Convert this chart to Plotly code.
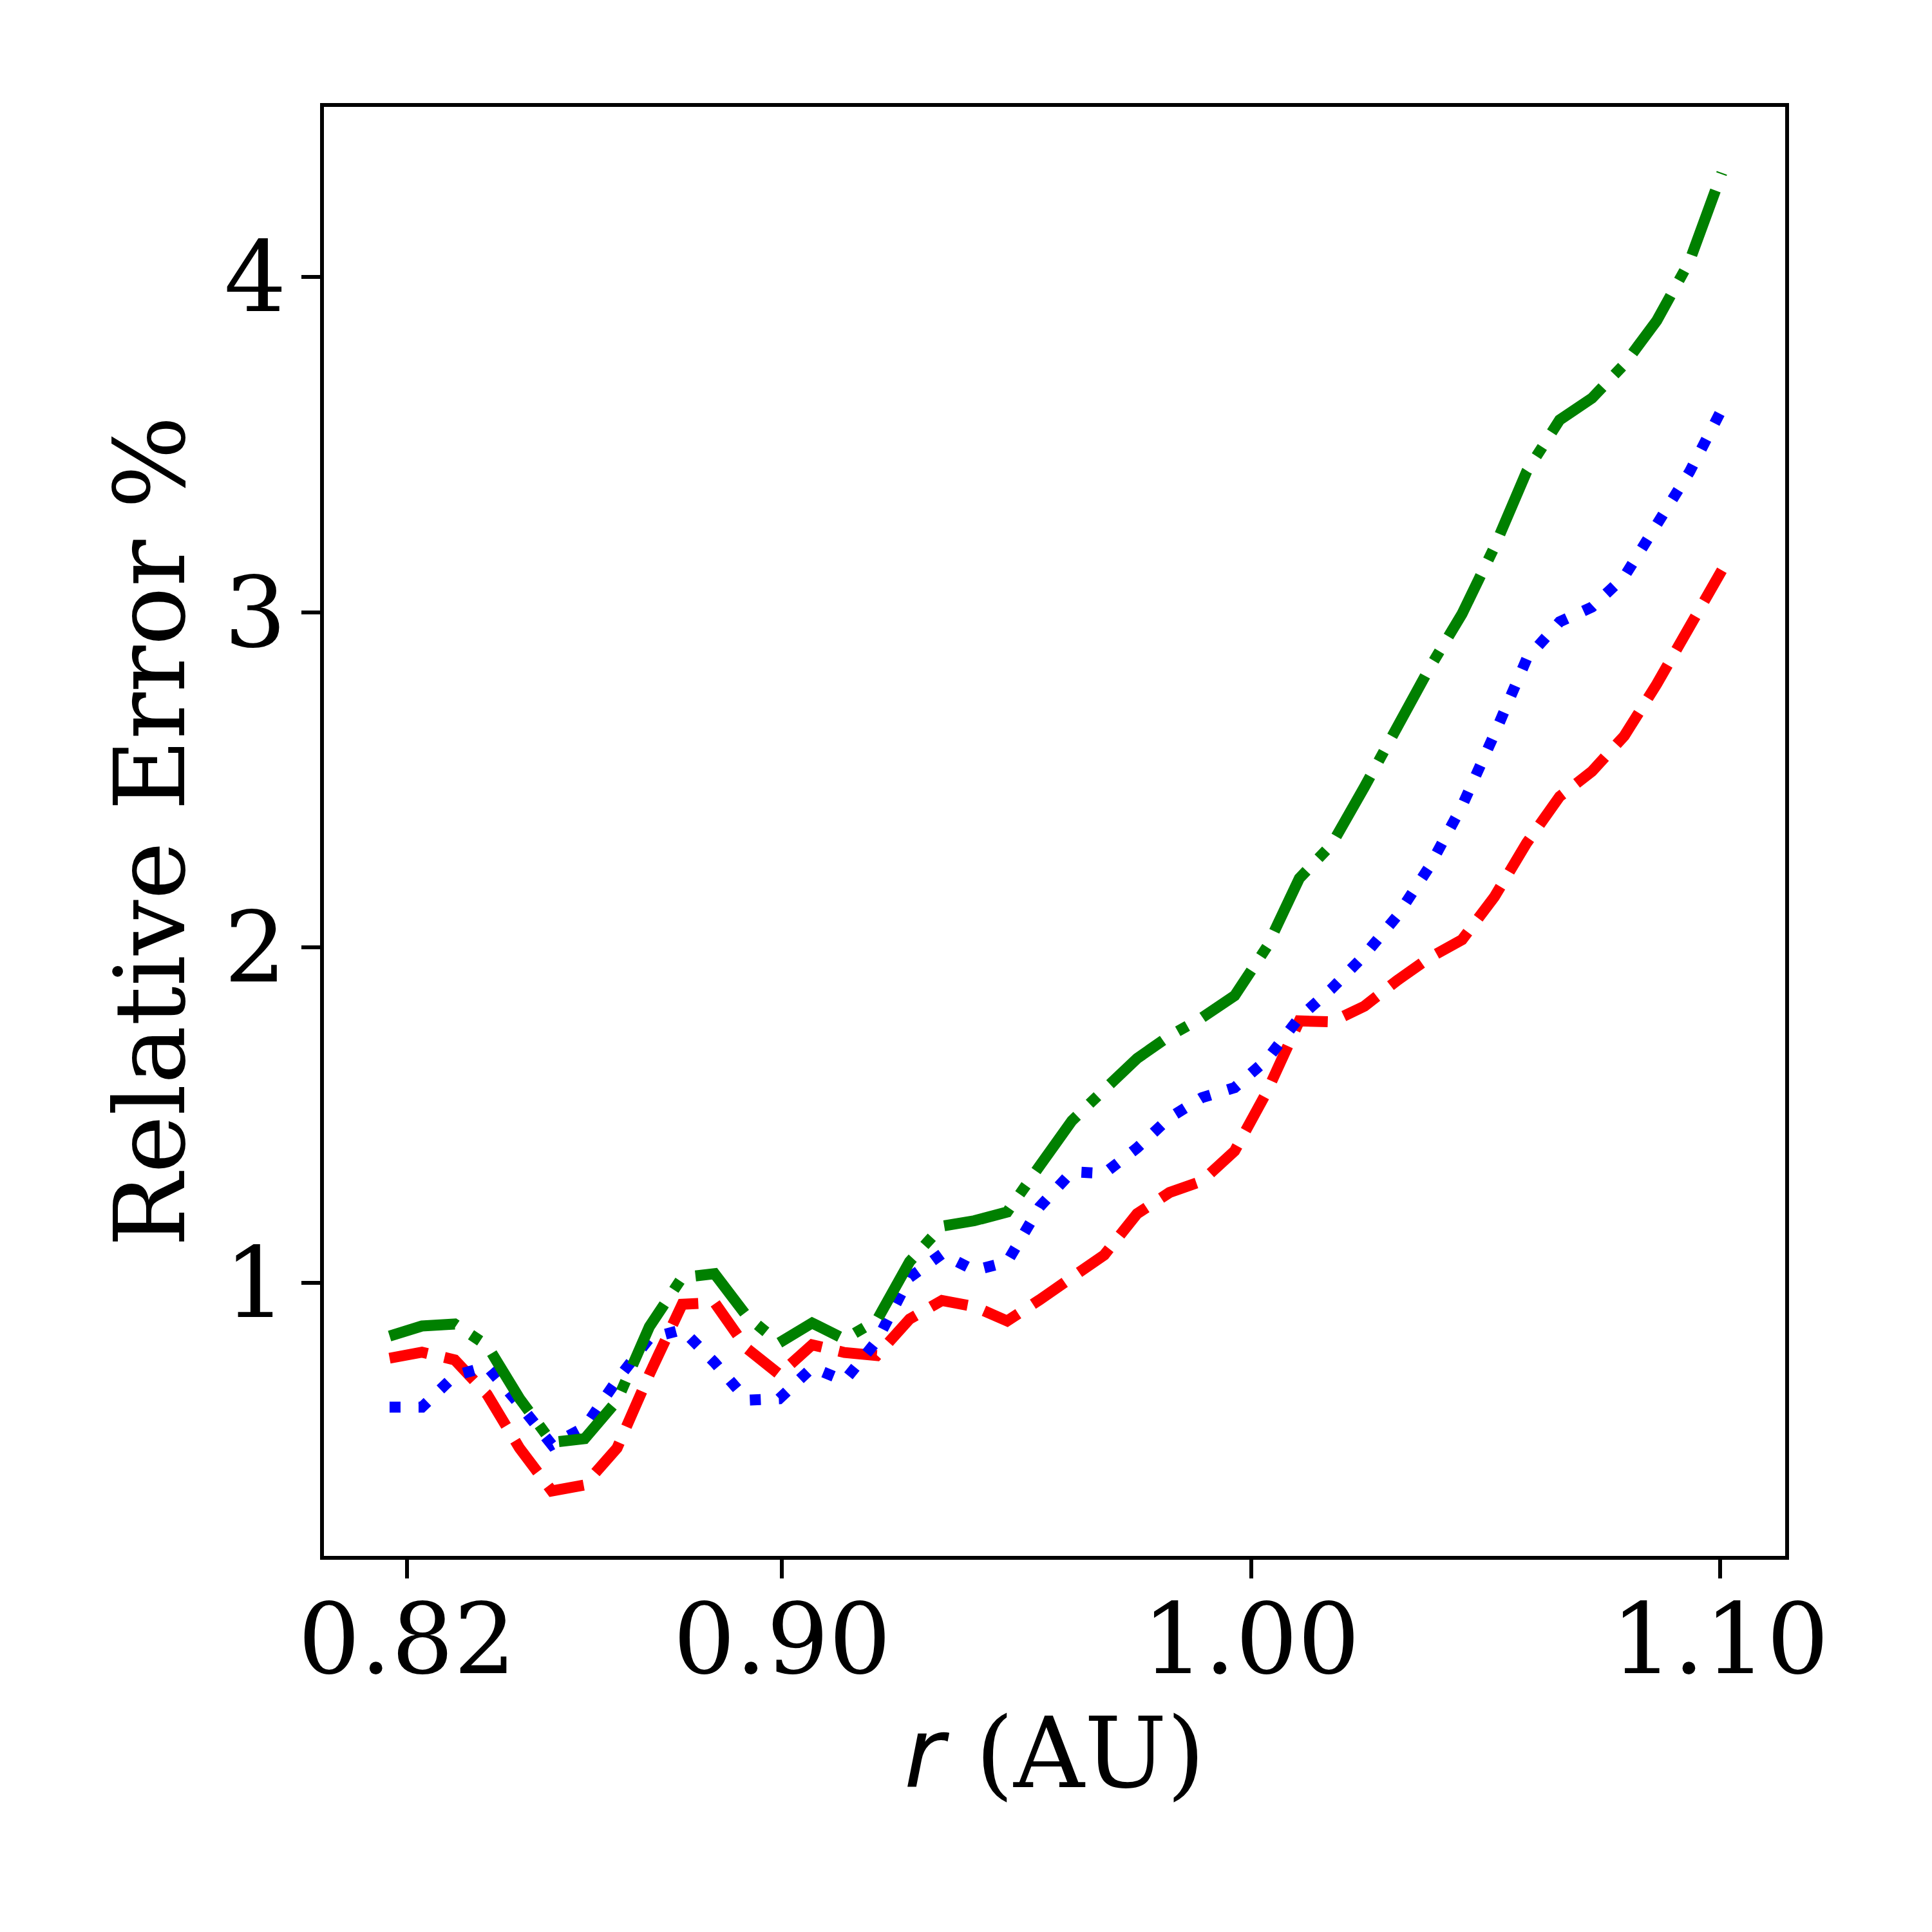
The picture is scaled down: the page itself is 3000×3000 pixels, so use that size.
"""
Relative error (%) of three models against heliocentric distance r (AU).
"""

import plotly.graph_objects as go

# radial grid (AU)
r_au = [0.8163, 0.8232, 0.8302, 0.8371, 0.8440, 0.8509, 0.8579, 0.8648, 0.8717, 0.8787,
        0.8856, 0.8925, 0.8994, 0.9064, 0.9133, 0.9202, 0.9272, 0.9341, 0.9410, 0.9480,
        0.9549, 0.9618, 0.9687, 0.9757, 0.9826, 0.9895, 0.9965, 1.0034, 1.0103, 1.0172,
        1.0242, 1.0311, 1.0380, 1.0450, 1.0519, 1.0588, 1.0658, 1.0727, 1.0796, 1.0865,
        1.0935, 1.1004]

# relative error, red dashed series
err_red = [0.775, 0.793, 0.770, 0.667, 0.507, 0.379, 0.397, 0.507, 0.727, 0.936,
           0.941, 0.804, 0.727, 0.815, 0.792, 0.783, 0.892, 0.947, 0.929, 0.886,
           0.949, 1.016, 1.083, 1.206, 1.269, 1.303, 1.393, 1.570, 1.781, 1.778,
           1.825, 1.901, 1.969, 2.023, 2.151, 2.312, 2.450, 2.525, 2.631, 2.785,
           2.960, 3.125]

# relative error, blue dotted series
err_blue = [0.629, 0.629, 0.723, 0.750, 0.637, 0.517, 0.569, 0.710, 0.834, 0.860,
            0.762, 0.650, 0.654, 0.747, 0.708, 0.827, 1.016, 1.086, 1.037, 1.062,
            1.226, 1.331, 1.326, 1.402, 1.492, 1.552, 1.582, 1.666, 1.791, 1.877,
            1.977, 2.093, 2.240, 2.422, 2.636, 2.861, 2.971, 3.015, 3.106, 3.259,
            3.418, 3.605]

# relative error, green dash-dot series
err_green = [0.841, 0.871, 0.877, 0.813, 0.655, 0.524, 0.535, 0.648, 0.869, 1.016,
             1.027, 0.900, 0.821, 0.880, 0.832, 0.888, 1.063, 1.169, 1.185, 1.211,
             1.348, 1.483, 1.576, 1.669, 1.736, 1.790, 1.856, 2.002, 2.206, 2.307,
             2.479, 2.664, 2.832, 2.995, 3.194, 3.420, 3.573, 3.638, 3.739, 3.869,
             4.046, 4.310]

x_ticks = [0.82, 0.90, 1.00, 1.10]
x_tick_labels = ['0.82', '0.90', '1.00', '1.10']
y_ticks = [1, 2, 3, 4]
y_tick_labels = ['1', '2', '3', '4']

FONT = 'DejaVu Serif'
LW = 17

fig = go.Figure()

# drawing order red, blue, green (green ends up on top)
fig.add_trace(go.Scatter(x=r_au, y=err_red, mode='lines',
                         line=dict(color='#ff0000', width=LW, dash='60px,27px')))
fig.add_trace(go.Scatter(x=r_au, y=err_blue, mode='lines',
                         line=dict(color='#0000ff', width=LW, dash='17px,28px')))
fig.add_trace(go.Scatter(x=r_au, y=err_green, mode='lines',
                         line=dict(color='#008000', width=LW, dash='107px,27px,17px,27px')))

# the page body adds an 8px offset, so margins are shifted to compensate
fig.update_layout(
    width=3000,
    height=3000,
    margin=dict(l=495, r=236, t=158, b=592),
    plot_bgcolor='white',
    paper_bgcolor='white',
    showlegend=False,
    font=dict(family=FONT, size=152, color='black'),
)

fig.update_xaxes(
    range=[0.8023, 1.1139],
    tickvals=x_ticks,
    ticktext=x_tick_labels,
    ticks='outside', ticklen=29, tickwidth=6, tickcolor='black',
    ticklabelstandoff=-35,
    showline=True, linewidth=6, linecolor='black', mirror=True,
    showgrid=False, zeroline=False,
    tickfont=dict(family=FONT, size=152, color='black'),
    title=dict(text="<span style=\"font-family:'DejaVu Sans'\"><i>r</i></span> (AU)",
               font=dict(family=FONT, size=152, color='black'), standoff=35),
)

fig.update_yaxes(
    range=[0.1854, 4.5067],
    tickvals=y_ticks,
    ticktext=y_tick_labels,
    ticks='outside', ticklen=29, tickwidth=6, tickcolor='black',
    ticklabelstandoff=-7,
    showline=True, linewidth=6, linecolor='black', mirror=True,
    showgrid=False, zeroline=False,
    tickfont=dict(family=FONT, size=152, color='black'),
    title=dict(text='Relative Error %',
               font=dict(family=FONT, size=152, color='black'), standoff=12),
)

fig.write_html("out.html")
